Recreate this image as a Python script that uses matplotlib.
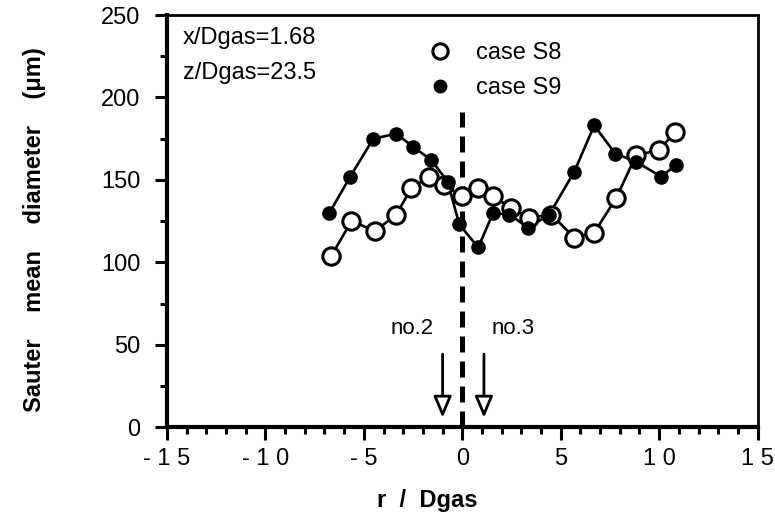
import matplotlib
matplotlib.use('Agg')
import matplotlib.pyplot as plt
from matplotlib.lines import Line2D

plt.rcParams['font.family'] = ['Liberation Sans', 'DejaVu Sans']

# case S8 (open circles)
r_s8 = [-6.65, -5.63, -4.42, -3.35, -2.59, -1.68, -0.91, 0.0, 0.81, 1.57,
        2.49, 3.40, 4.52, 5.69, 6.70, 7.82, 8.83, 10.0, 10.8]
d_s8 = [104, 125, 119, 129, 145, 152, 147, 140, 145, 140,
        133, 127, 129, 115, 118, 139, 165, 168, 179]

# case S9 (filled circles)
r_s9 = [-6.75, -5.69, -4.52, -3.35, -2.49, -1.57, -0.75, -0.15, 0.81, 1.57,
        2.39, 3.35, 4.42, 5.69, 6.70, 7.77, 8.83, 10.1, 10.86]
d_s9 = [130, 152, 175, 178, 170, 162, 149, 123, 109, 130,
        129, 121, 129, 155, 183, 166, 161, 152, 159]

# probe positions marked with arrows
probe_r = [-1.0, 1.1]
probe_lbl = ['no.2', 'no.3']

fig = plt.figure(figsize=(7.75, 5.19), dpi=100)
ax = fig.add_axes([0.2155, 0.177, 0.762, 0.794])

ax.plot(r_s8, d_s8, '-', color='black', lw=1.9, zorder=2)
ax.plot(r_s8, d_s8, 'o', mfc='white', mec='black', mew=2.2, ms=12.5, zorder=3)
ax.plot(r_s9, d_s9, '-', color='black', lw=1.9, zorder=2)
ax.plot(r_s9, d_s9, 'o', color='black', ms=9.5, zorder=4)

# center line
ax.plot([0, 0], [0, 191], color='black', lw=3.6, dashes=(3.2, 1.8), zorder=1)

for r, lbl in zip(probe_r, probe_lbl):
    ax.annotate('', xy=(r, 4), xytext=(r, 46),
                arrowprops=dict(arrowstyle='-|>,head_length=1.3,head_width=0.55',
                                fc='white', ec='black', lw=2.0))
ax.text(probe_r[0] - 0.45, 60, probe_lbl[0], ha='right', va='center', fontsize=16)
ax.text(probe_r[1] + 0.4, 60, probe_lbl[1], ha='left', va='center', fontsize=16)

ax.text(-14.2, 236, 'x/Dgas=1.68', fontsize=17, va='center')
ax.text(-14.2, 215, 'z/Dgas=23.5', fontsize=17, va='center')

handles = [Line2D([], [], ls='none', marker='o', mfc='white', mec='black', mew=2.2, ms=11),
           Line2D([], [], ls='none', marker='o', color='black', ms=9)]
ax.legend(handles, ['case S8', 'case S9'], loc='upper left',
          bbox_to_anchor=(0.403, 0.985), frameon=False, fontsize=17,
          handletextpad=0.9, labelspacing=0.55, handlelength=1.2)

ax.set_xlim(-15, 15)
ax.set_ylim(0, 250)
ax.set_xticks([-15, -10, -5, 0, 5, 10, 15])
ax.set_xticklabels(['- 1 5', '- 1 0', '- 5', '0', '5', '1 0', '1 5'])
ax.set_xticks(range(-15, 16), minor=True)
ax.set_yticks([0, 50, 100, 150, 200, 250])
ax.set_yticks(range(0, 251, 25), minor=True)
ax.tick_params(which='major', direction='out', length=9, width=2.2, labelsize=17)
ax.tick_params(which='minor', direction='out', length=5, width=2.2)
ax.tick_params(axis='x', pad=6)
ax.tick_params(axis='y', pad=10)

ax.spines['left'].set_linewidth(3)
ax.spines['bottom'].set_linewidth(3)
ax.spines['top'].set_linewidth(2)
ax.spines['right'].set_linewidth(2)

ax.set_xlabel('r  /  Dgas', fontsize=17, fontweight='bold')
ax.xaxis.set_label_coords(0.44, -0.15)
ax.set_ylabel('Sauter    mean    diameter    (\u03bcm)', fontsize=17,
              fontweight='bold')
ax.yaxis.set_label_coords(-0.205, 0.48)

fig.savefig('out.png', dpi=100)
